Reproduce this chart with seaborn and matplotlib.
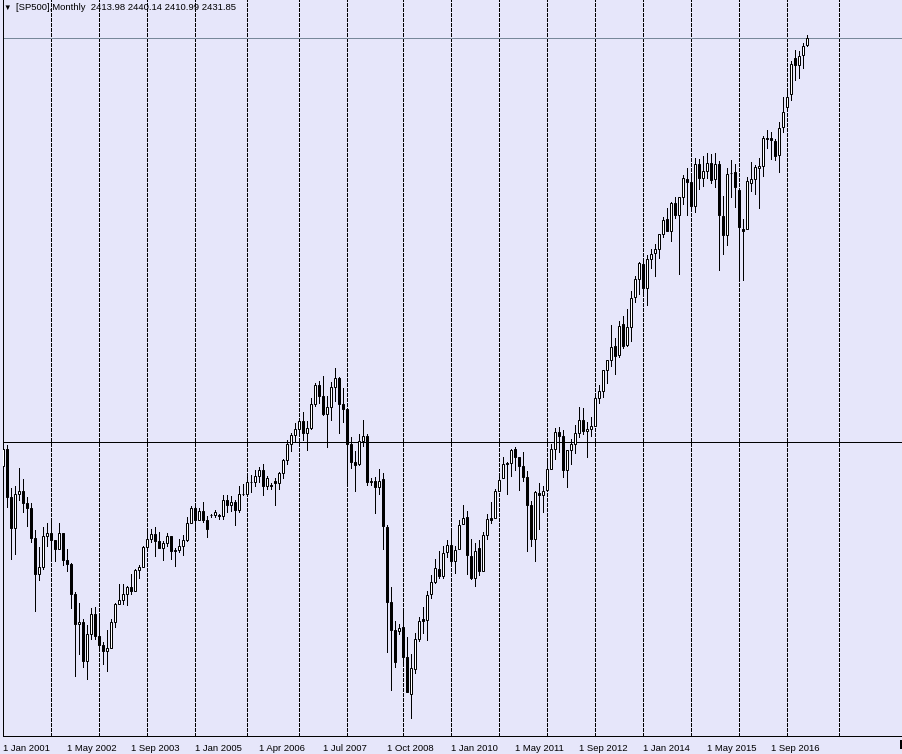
import numpy as np
import pandas as pd
import matplotlib
matplotlib.use('Agg')
import matplotlib.pyplot as plt
import seaborn as sns
from matplotlib.patches import Rectangle

# Monthly SP500 bars, Jan 2001 .. Jun 2017 (broker feed repeats a few months)
doubled_months = ['2005-06', '2006-05', '2008-06', '2008-12']

opens = [
    1320.28, 1366.01, 1239.94, 1160.33, 1249.46, 1255.82, 1224.42, 1211.23, 1133.58, 1040.94, 1059.78, 1139.45,
    1148.08, 1130.20, 1106.73, 1147.39, 1076.92, 1067.14, 989.82, 911.62, 916.07, 815.28, 885.76, 936.31,
    879.82, 855.70, 841.15, 848.18, 916.92, 963.59, 974.50, 990.31, 1008.01, 995.97, 1050.71, 1058.20,
    1111.92, 1131.13, 1144.94, 1126.21, 1107.30, 1120.68, 1140.84, 1101.72, 1104.24, 1114.58, 1130.20, 1173.82,
    1211.92, 1181.27, 1203.60, 1180.59, 1193.00, 1194.00, 1193.00, 1191.33, 1234.18, 1220.33, 1228.81, 1207.01, 1249.48,
    1248.29, 1280.08, 1280.66, 1294.83, 1310.61, 1270.09, 1271.00, 1283.00, 1276.66, 1303.82, 1335.85, 1377.94, 1400.63,
    1418.30, 1438.24, 1406.82, 1420.86, 1482.37, 1530.62, 1503.35, 1455.27, 1473.99, 1526.75, 1549.38, 1481.14,
    1468.36, 1378.60, 1330.45, 1326.41, 1385.97, 1399.62, 1281.00, 1283.00, 1267.23, 1287.83, 1164.17, 968.67, 896.24, 894.00,
    903.25, 825.44, 729.57, 793.59, 872.74, 923.26, 920.82, 990.22, 1019.52, 1054.91, 1036.18, 1098.89,
    1116.56, 1073.89, 1105.36, 1171.23, 1188.58, 1087.30, 1031.10, 1107.53, 1049.72, 1143.49, 1185.71, 1186.60,
    1257.62, 1289.14, 1328.64, 1329.48, 1365.21, 1345.20, 1320.64, 1292.59, 1219.12, 1131.21, 1251.00, 1246.91,
    1258.86, 1312.45, 1365.90, 1408.47, 1397.86, 1309.87, 1362.33, 1379.32, 1406.54, 1440.90, 1413.20, 1416.18,
    1426.19, 1498.11, 1514.68, 1569.18, 1597.55, 1631.71, 1609.78, 1689.42, 1635.95, 1682.41, 1758.70, 1806.55,
    1845.86, 1782.68, 1857.68, 1873.96, 1884.39, 1923.87, 1962.29, 1929.80, 2004.07, 1971.44, 2018.21, 2065.78,
    2058.90, 1996.67, 2105.23, 2067.63, 2087.38, 2108.64, 2067.00, 2104.49, 1970.09, 1919.65, 2080.76, 2082.93,
    2038.20, 1936.94, 1937.09, 2056.62, 2067.17, 2093.94, 2099.34, 2173.15, 2171.33, 2164.33, 2128.68, 2200.17,
    2251.57, 2285.59, 2380.13, 2362.34, 2388.50, 2413.98,
]
highs = [
    1383.37, 1376.38, 1263.47, 1269.30, 1315.93, 1286.62, 1239.78, 1226.27, 1155.40, 1110.61, 1163.38, 1173.62,
    1176.55, 1130.20, 1173.94, 1147.84, 1106.59, 1070.74, 994.46, 965.00, 924.02, 907.44, 951.57, 954.28,
    935.05, 864.64, 895.90, 924.24, 965.38, 1015.33, 1015.41, 1011.01, 1040.29, 1053.79, 1063.65, 1112.56,
    1155.38, 1158.98, 1163.23, 1150.57, 1127.74, 1146.34, 1140.84, 1109.68, 1131.54, 1142.05, 1188.46, 1217.33,
    1217.80, 1212.44, 1229.11, 1191.88, 1197.00, 1207.00, 1196.00, 1245.15, 1245.86, 1243.13, 1233.34, 1270.64, 1275.80,
    1294.90, 1297.57, 1310.88, 1318.16, 1326.70, 1295.00, 1276.00, 1290.00, 1306.74, 1340.28, 1389.45, 1407.89, 1431.81,
    1441.61, 1461.57, 1438.89, 1498.02, 1535.56, 1540.56, 1555.90, 1503.89, 1538.74, 1576.09, 1552.76, 1523.57,
    1471.77, 1396.02, 1359.68, 1404.57, 1440.24, 1404.05, 1290.00, 1292.17, 1313.15, 1303.04, 1167.03, 1007.51, 918.85, 912.00,
    943.85, 877.86, 832.98, 888.70, 930.17, 956.23, 996.68, 1039.47, 1080.15, 1101.36, 1113.69, 1130.38,
    1150.45, 1112.42, 1180.69, 1219.80, 1205.13, 1131.23, 1120.95, 1129.24, 1148.90, 1196.14, 1227.08, 1262.60,
    1302.67, 1344.07, 1332.28, 1364.56, 1370.58, 1345.20, 1356.48, 1307.38, 1229.29, 1256.55, 1277.55, 1269.37,
    1333.47, 1378.04, 1419.15, 1422.38, 1415.32, 1363.46, 1391.74, 1426.68, 1474.51, 1470.96, 1434.27, 1448.00,
    1509.94, 1530.94, 1570.28, 1597.57, 1687.18, 1654.19, 1698.78, 1709.67, 1729.86, 1775.22, 1813.55, 1849.44,
    1850.84, 1867.92, 1883.97, 1897.28, 1924.03, 1968.17, 1991.39, 2005.04, 2019.26, 2018.19, 2075.76, 2093.55,
    2072.36, 2119.59, 2117.52, 2125.92, 2134.72, 2129.87, 2132.82, 2112.66, 2020.86, 2094.32, 2116.48, 2104.27,
    2038.20, 1962.96, 2072.21, 2111.05, 2103.48, 2120.55, 2177.09, 2193.81, 2187.87, 2169.60, 2214.10, 2277.53,
    2300.99, 2371.54, 2400.98, 2398.16, 2418.71, 2440.14,
]
lows = [
    1274.62, 1215.44, 1081.19, 1091.99, 1232.00, 1203.03, 1165.54, 1124.87, 944.75, 1026.76, 1054.31, 1114.51,
    1081.66, 1074.36, 1106.73, 1063.46, 1048.96, 952.99, 775.68, 833.44, 800.20, 768.63, 872.57, 871.84,
    840.34, 806.29, 788.90, 847.85, 902.83, 963.59, 962.10, 960.84, 990.36, 995.97, 1031.20, 1058.20,
    1105.08, 1124.44, 1087.16, 1107.23, 1076.32, 1113.32, 1078.78, 1060.72, 1099.18, 1090.19, 1127.60, 1173.76,
    1163.75, 1180.95, 1176.92, 1136.15, 1189.00, 1190.00, 1183.00, 1183.55, 1201.07, 1205.35, 1168.20, 1201.07, 1245.74,
    1245.74, 1253.61, 1268.42, 1280.74, 1245.34, 1262.00, 1262.00, 1219.29, 1261.30, 1290.93, 1327.10, 1360.98, 1385.93,
    1403.97, 1389.42, 1363.98, 1416.37, 1476.70, 1484.18, 1454.25, 1370.60, 1439.45, 1489.56, 1406.10, 1435.65,
    1270.05, 1316.75, 1256.98, 1324.35, 1373.07, 1272.00, 1272.00, 1200.44, 1248.64, 1106.42, 839.80, 741.02, 800.00, 885.00,
    804.30, 734.52, 666.79, 783.32, 866.10, 888.86, 869.32, 978.51, 1018.00, 1029.38, 1029.38, 1085.89,
    1071.59, 1044.50, 1105.36, 1170.69, 1040.78, 1028.33, 1010.91, 1039.70, 1049.72, 1131.87, 1173.00, 1186.60,
    1257.62, 1289.14, 1249.05, 1294.70, 1311.80, 1258.07, 1282.86, 1101.54, 1114.22, 1074.77, 1158.66, 1202.37,
    1258.86, 1312.45, 1340.03, 1357.38, 1291.98, 1266.74, 1325.41, 1354.65, 1396.56, 1403.28, 1343.35, 1398.11,
    1426.19, 1485.01, 1501.48, 1536.03, 1581.28, 1560.33, 1604.57, 1627.47, 1633.41, 1646.47, 1746.20, 1767.99,
    1770.45, 1737.92, 1834.44, 1814.36, 1859.79, 1915.98, 1930.67, 1904.78, 1964.04, 1820.66, 2001.01, 1972.56,
    1988.12, 1980.90, 2039.69, 2048.38, 2067.93, 2056.32, 2044.02, 1831.00, 1871.91, 1893.70, 2019.39, 1993.26,
    1805.00, 1805.00, 1937.09, 2033.80, 2025.91, 1991.68, 2074.02, 2147.58, 2119.12, 2114.72, 2083.79, 2187.44,
    2245.13, 2271.65, 2322.25, 2328.95, 2352.72, 2410.99,
]
closes = [
    1366.01, 1239.94, 1160.33, 1249.46, 1255.82, 1224.42, 1211.23, 1133.58, 1040.94, 1059.78, 1139.45, 1148.08,
    1130.20, 1106.73, 1147.39, 1076.92, 1067.14, 989.82, 911.62, 916.07, 815.28, 885.76, 936.31, 879.82,
    855.70, 841.15, 848.18, 916.92, 963.59, 974.50, 990.31, 1008.01, 995.97, 1050.71, 1058.20, 1111.92,
    1131.13, 1144.94, 1126.21, 1107.30, 1120.68, 1140.84, 1101.72, 1104.24, 1114.58, 1130.20, 1173.82, 1211.92,
    1181.27, 1203.60, 1180.59, 1156.85, 1195.00, 1203.00, 1191.50, 1234.18, 1220.33, 1228.81, 1207.01, 1249.48, 1248.29,
    1280.08, 1280.66, 1294.83, 1310.61, 1270.09, 1290.00, 1270.00, 1277.00, 1303.82, 1335.85, 1377.94, 1400.63, 1418.30,
    1438.24, 1406.82, 1420.86, 1482.37, 1530.62, 1503.35, 1455.27, 1473.99, 1526.75, 1549.38, 1481.14, 1468.36,
    1378.55, 1330.63, 1322.70, 1385.59, 1400.38, 1280.00, 1283.00, 1267.38, 1282.83, 1166.36, 968.75, 896.24, 812.00, 900.00,
    825.88, 735.09, 797.87, 872.81, 919.14, 919.32, 987.48, 1020.62, 1057.08, 1036.19, 1095.63, 1115.10,
    1073.87, 1104.49, 1169.43, 1186.69, 1089.41, 1030.71, 1101.60, 1049.33, 1141.20, 1183.26, 1180.55, 1257.64,
    1286.12, 1327.22, 1325.83, 1363.61, 1345.20, 1320.64, 1292.28, 1218.89, 1131.42, 1253.30, 1246.96, 1257.60,
    1312.41, 1365.68, 1408.47, 1397.91, 1310.33, 1362.16, 1379.32, 1406.58, 1440.67, 1412.16, 1416.18, 1426.19,
    1498.11, 1514.68, 1569.19, 1597.57, 1630.74, 1606.28, 1685.73, 1632.97, 1681.55, 1756.54, 1805.81, 1848.36,
    1782.59, 1859.45, 1872.34, 1883.95, 1923.57, 1960.23, 1930.67, 2003.37, 1972.29, 2018.05, 2067.56, 2058.90,
    1994.99, 2104.50, 2067.89, 2085.51, 2107.39, 2063.11, 2103.84, 1972.18, 1920.03, 2079.36, 2080.41, 2043.94,
    1940.24, 1932.23, 2059.74, 2065.30, 2096.95, 2098.86, 2173.60, 2170.95, 2168.27, 2126.15, 2198.81, 2238.83,
    2278.87, 2363.64, 2362.72, 2384.20, 2411.80, 2431.85,
]

level_line = 1383.37   # horizontal line drawn on the chart
symbol = '[SP500],Monthly'

BG = '#E6E6FA'

# bar dates, with the repeated months inserted
months = []
for p in pd.period_range('2001-01', '2017-06', freq='M'):
    months.append(p)
    if str(p) in doubled_months:
        months.append(p)

df = pd.DataFrame({'month': months, 'open': opens, 'high': highs,
                   'low': lows, 'close': closes})
df['bar'] = np.arange(len(df))
df['up'] = df['close'] >= df['open']

# year separators (first bar of each year) + the next one in the empty area
sep_bars = [i for i in range(1, len(df)) if df['month'][i].year != df['month'][i - 1].year]
sep_bars.append(len(df) + 7)

tick_bars = list(range(0, len(df), 16))
tick_labels = [df['month'][i].strftime('1 %b %Y') for i in tick_bars]

sns.set_style('white', rc={'axes.facecolor': BG, 'figure.facecolor': BG})
plt.rcParams['font.family'] = ['Liberation Sans', 'DejaVu Sans']

W, H = 902, 754
fig = plt.figure(figsize=(W / 100, H / 100), dpi=100)
ax = fig.add_axes([2.5 / W, 18 / H, (W - 2.5) / W, 736 / H])
ax.set_facecolor(BG)

px = 0.72  # one pixel in points
for b in sep_bars:
    ax.axvline(b, color='black', lw=px, ls=(0, (3, 2)), zorder=1, antialiased=False)

ax.axhline(level_line, color='black', lw=px, zorder=1.5, antialiased=False)
ax.axhline(df['close'].iloc[-1], color='#778899', lw=px, zorder=1.5, antialiased=False)

# candles
ax.vlines(df['bar'], df['low'], df['high'], color='black', lw=px, zorder=2,
          antialiased=False)
body_low = np.minimum(df['open'], df['close'])
body_h = np.maximum((df['close'] - df['open']).abs(), 0.5)
ax.bar(df['bar'], body_h, bottom=body_low, width=0.5,
       color=np.where(df['up'], 'white', 'black'), edgecolor='black',
       linewidth=px, zorder=3)

ax.set_xlim(-0.125, (W - 3) / 4)
ax.set_ylim(620.7, 2530.45)
ax.set_yticks([])
ax.set_xticks(tick_bars)
ax.set_xticklabels(tick_labels, ha='left', fontsize=6.8)
ax.tick_params(axis='x', length=4, width=px, pad=1.5, colors='black', direction='out')
for side in ['top', 'right']:
    ax.spines[side].set_visible(False)
for side in ['left', 'bottom']:
    ax.spines[side].set_color('black')
    ax.spines[side].set_linewidth(px)

header = '{}  {:.2f} {:.2f} {:.2f} {:.2f}'.format(
    symbol, df['open'].iloc[-1], df['high'].iloc[-1], df['low'].iloc[-1], df['close'].iloc[-1])
fig.text(3.5 / W, 1 - 8 / H, '\u25bc', fontsize=5.5, va='center', ha='left', color='black')
fig.text(16 / W, 1 - 7.5 / H, header, fontsize=6.8, va='center', ha='left', color='black')

# stub of the price scale border at the bottom right
fig.add_artist(Rectangle((899.5 / W, 5 / H), 2.5 / W, 9 / H, transform=fig.transFigure,
                         color='black', lw=0))

fig.savefig('out.png', dpi=100, facecolor=BG)
